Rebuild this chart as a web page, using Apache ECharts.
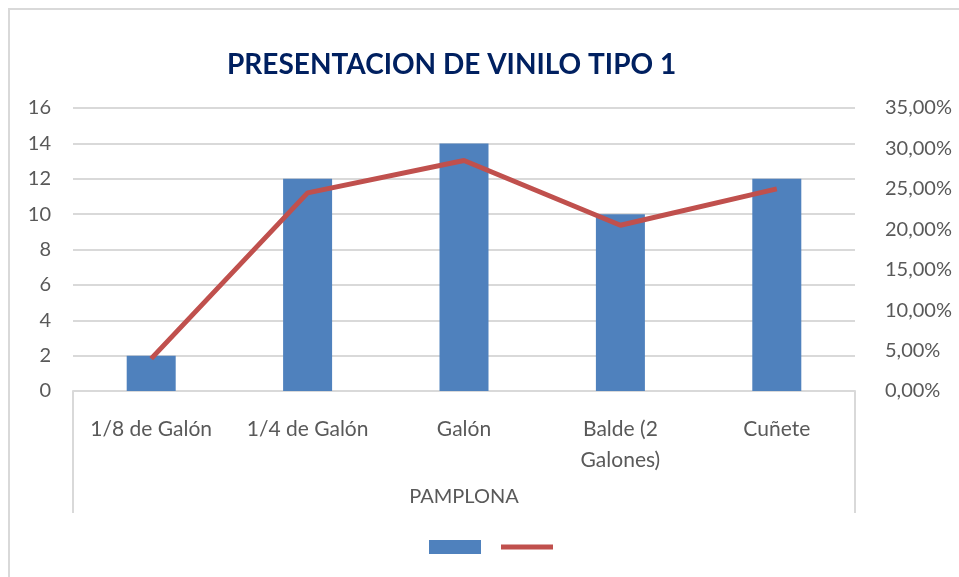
<!DOCTYPE html>
<html>
<head>
<meta charset="utf-8">
<script src="https://cdn.jsdelivr.net/npm/echarts@6/dist/echarts.min.js"></script>
<style>
  html, body { margin: 0; padding: 0; background: #fff; }
  #chart { width: 959px; height: 577px; }
</style>
</head>
<body>
<div id="chart"></div>
<script>
// datos
var categorias = ['1/8 de Galón', '1/4 de Galón', 'Galón', 'Balde (2\nGalones)', 'Cuñete'];
var grupo = ['PAMPLONA'];
var cantidades = [2, 12, 14, 10, 12];
var porcentajes = [0.04, 0.245, 0.285, 0.205, 0.25];

var gris = '#d9d9d9';
var texto = '#595959';
var fuente = 'Lato, "Open Sans", sans-serif';

var myChart = echarts.init(document.getElementById('chart'));
myChart.setOption({
    animation: false,
    title: {
        text: 'PRESENTACION DE VINILO TIPO 1',
        left: 227,
        top: 51,
        padding: 0,
        textStyle: { color: '#002060', fontSize: 28, fontWeight: 'bold', fontFamily: fuente }
    },
    graphic: [{
        type: 'rect',
        shape: { x: 9, y: 9, width: 960, height: 580 },
        style: { fill: 'none', stroke: gris, lineWidth: 2 },
        silent: true
    }],
    legend: {
        top: 540,
        left: 429,
        itemGap: 20,
        itemWidth: 52,
        itemHeight: 14,
        padding: 0,
        formatter: function () { return ''; },
        data: [
            { name: 'Cantidad', icon: 'rect' },
            { name: 'Porcentaje', icon: 'path://M0,0 L52,0 L52,5 L0,5 Z' }
        ]
    },
    grid: { left: 73, right: 104, top: 108, bottom: 186 },
    xAxis: [{
        type: 'category',
        data: categorias,
        axisTick: { show: false },
        axisLine: { lineStyle: { color: gris, width: 2 } },
        axisLabel: { color: texto, fontSize: 21, fontFamily: fuente, margin: 23, lineHeight: 31, interval: 0 }
    }, {
        type: 'category',
        data: grupo,
        position: 'bottom',
        axisLine: { show: false },
        axisTick: { show: true, length: 122, lineStyle: { color: gris, width: 2 } },
        axisLabel: { color: texto, fontSize: 20, fontFamily: fuente, margin: 96 }
    }],
    yAxis: [{
        type: 'value',
        min: 0,
        max: 16,
        interval: 2,
        axisLine: { show: false },
        axisTick: { show: false },
        axisLabel: { color: texto, fontSize: 20, fontFamily: fuente, margin: 22 },
        splitLine: { lineStyle: { color: gris, width: 2 } }
    }, {
        type: 'value',
        min: 0,
        max: 0.35,
        interval: 0.05,
        axisLine: { show: false },
        axisTick: { show: false },
        splitLine: { show: false },
        axisLabel: {
            color: texto, fontSize: 20, fontFamily: fuente, margin: 30,
            formatter: function (v) { return (v * 100).toFixed(2).replace('.', ',') + '%'; }
        }
    }],
    series: [{
        name: 'Cantidad',
        type: 'bar',
        data: cantidades,
        barWidth: 49,
        itemStyle: { color: '#4f81bd' }
    }, {
        name: 'Porcentaje',
        type: 'line',
        yAxisIndex: 1,
        data: porcentajes,
        symbol: 'none',
        lineStyle: { color: '#c0504d', width: 5 },
        itemStyle: { color: '#c0504d' }
    }]
});
</script>
</body>
</html>
